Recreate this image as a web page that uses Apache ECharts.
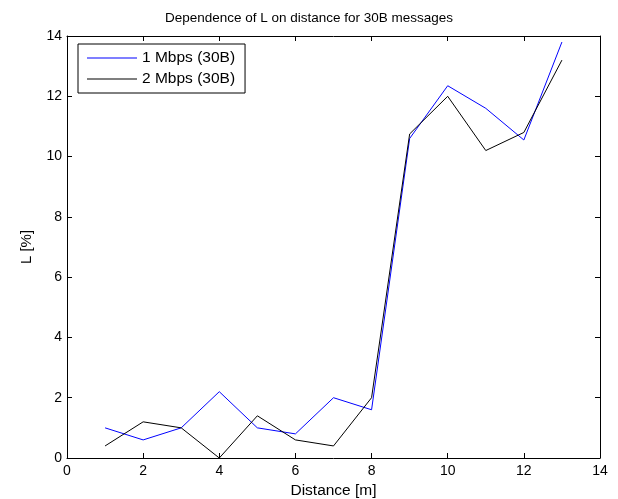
<!DOCTYPE html>
<html><head><meta charset="utf-8">
<script src="https://cdn.jsdelivr.net/npm/echarts@6/dist/echarts.min.js"></script>
<style>html,body{margin:0;padding:0;background:#fff}#c{width:618px;height:499px}</style>
</head><body><div id="c"></div>
<script>
const distance = [1,2,3,4,5,6,7,8,9,10,11,12,13];
const mbps1 = [1.0,0.6,1.0,2.2,1.0,0.8,2.0,1.6,10.6,12.35,11.6,10.55,13.8];
const mbps2 = [0.4,1.2,1.0,0.0,1.4,0.6,0.4,2.0,10.75,12.0,10.2,10.8,13.2];
const xTicks = [0,2,4,6,8,10,12,14];
const yTicks = [0,2,4,6,8,10,12,14];
const F = 'Liberation Sans, Arial, Helvetica, sans-serif';
const chart = echarts.init(document.getElementById('c'));
const axLine = {show:true, onZero:false, lineStyle:{color:'#000', width:1}};
const tick = {show:true, inside:true, length:5, lineStyle:{color:'#000'}};
chart.setOption({
  animation:false,
  title:{text:'Dependence of L on distance for 30B messages', left:'center', top:6,
    textStyle:{fontFamily:F, fontSize:13.5, fontWeight:'normal', color:'#000'}},
  grid:{left:67, right:18, top:36, bottom:41, containLabel:false, outerBoundsMode:'none'},
  legend:{orient:'vertical', left:78, top:44, padding:[6,10,6,9], itemGap:5,
    borderColor:'#000', borderWidth:1, backgroundColor:'#fff',
    itemWidth:50, itemHeight:14, icon:'path://M0,0 L50,0 L50,1 L0,1 Z',
    textStyle:{fontFamily:F, fontSize:15.5, color:'#000'},
    data:[{name:'1 Mbps (30B)', itemStyle:{color:'#0000ff'}},{name:'2 Mbps (30B)', itemStyle:{color:'#000'}}]},
  xAxis:[
    {type:'value', min:0, max:14, interval:2, name:'Distance [m]', nameLocation:'middle', nameGap:22,
     nameTextStyle:{fontFamily:F, fontSize:15.5, color:'#000'},
     axisLine:axLine, axisTick:tick, splitLine:{show:false},
     axisLabel:{fontFamily:F, fontSize:14, color:'#000', margin:6}},
    {type:'value', position:'top', min:0, max:14, interval:2,
     axisLine:axLine, axisTick:tick, splitLine:{show:false}, axisLabel:{show:false}}
  ],
  yAxis:[
    {type:'value', min:0, max:14, interval:2, name:'L [%]', nameLocation:'middle', nameGap:33, nameRotate:90,
     nameTextStyle:{fontFamily:F, fontSize:15, color:'#000'},
     axisLine:axLine, axisTick:tick, splitLine:{show:false},
     axisLabel:{fontFamily:F, fontSize:14, color:'#000', margin:5}},
    {type:'value', position:'right', min:0, max:14, interval:2,
     axisLine:axLine, axisTick:tick, splitLine:{show:false}, axisLabel:{show:false}}
  ],
  series:[
    {name:'1 Mbps (30B)', type:'line', showSymbol:false, symbol:'none',
     itemStyle:{color:'#0000ff'}, lineStyle:{color:'#0000ff', width:1},
     data:distance.map((d,i)=>[d,mbps1[i]])},
    {name:'2 Mbps (30B)', type:'line', showSymbol:false, symbol:'none',
     itemStyle:{color:'#000'}, lineStyle:{color:'#000', width:1},
     data:distance.map((d,i)=>[d,mbps2[i]])}
  ]
});
</script></body></html>
